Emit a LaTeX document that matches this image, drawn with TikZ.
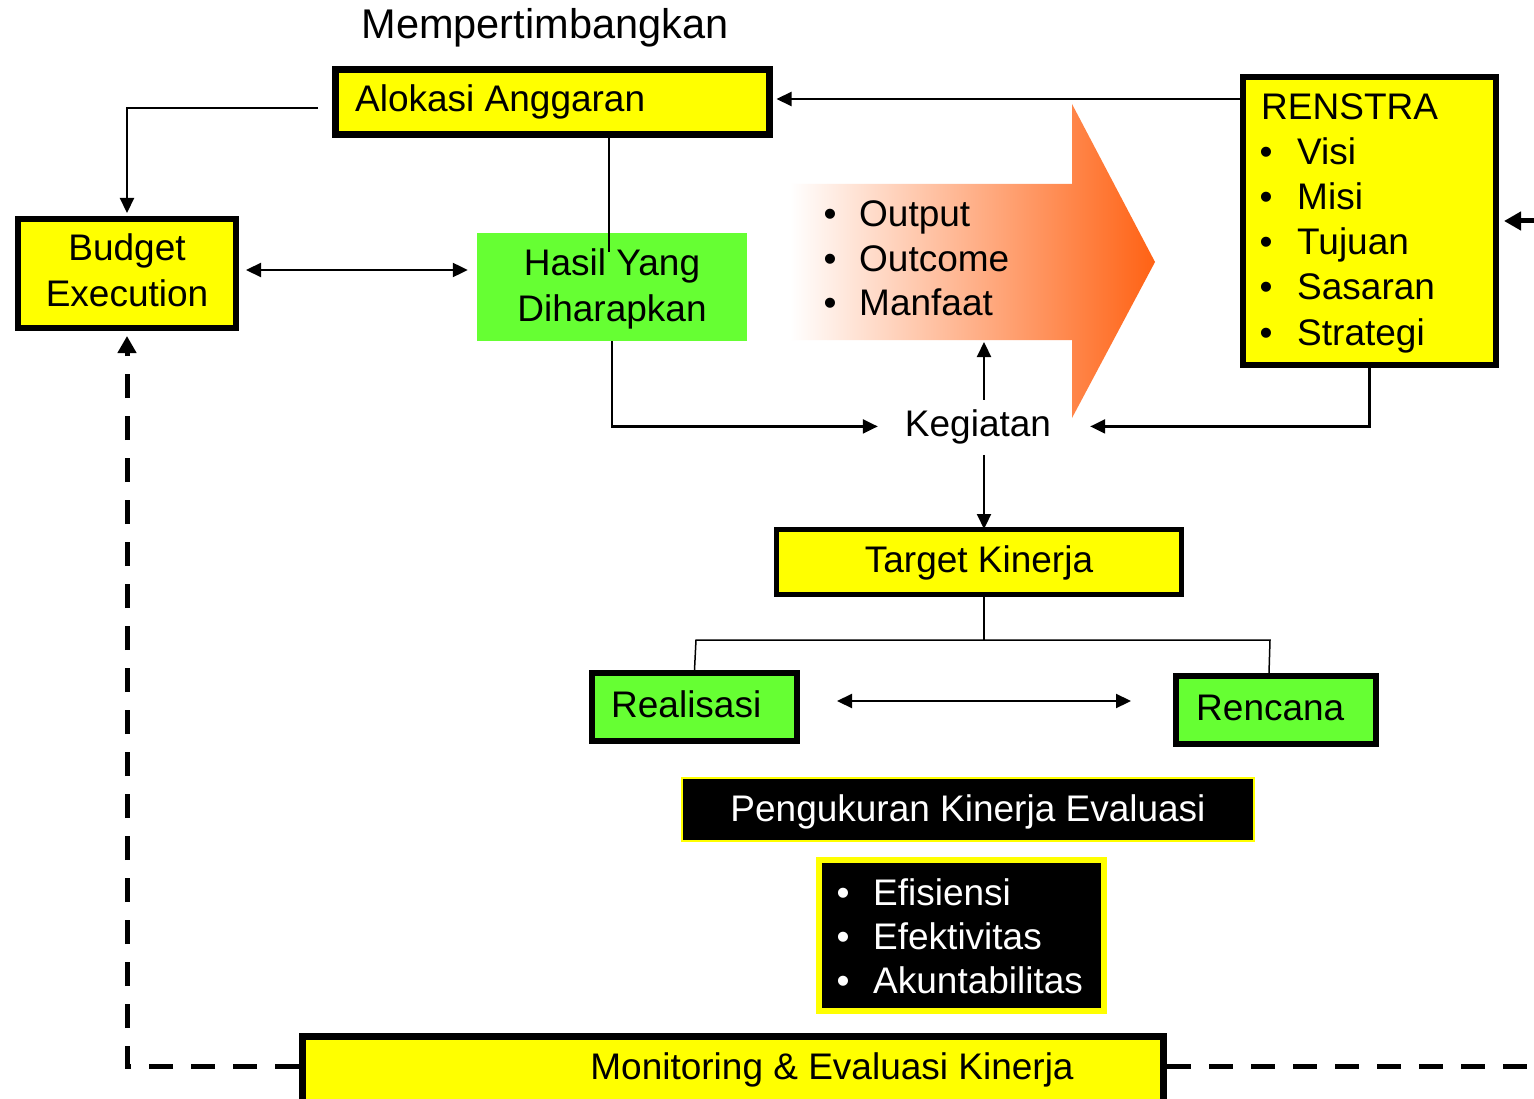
\documentclass[tikz,border=0pt]{standalone}
\usepackage{fontspec}
\setmainfont{Liberation Sans}
\usetikzlibrary{arrows.meta}
\definecolor{yel}{RGB}{255,255,0}
\definecolor{grn}{RGB}{102,255,51}
\definecolor{orng}{RGB}{255,98,20}
\begin{document}
\begin{tikzpicture}[x=1pt,y=-1pt,
  every node/.style={font=\fontsize{37}{45}\selectfont, inner sep=0pt},
  ybox/.style={draw=black, fill=yel, line width=6pt},
  gbox/.style={draw=black, fill=grn, line width=6pt},
  kbox/.style={draw=yel, fill=black},
  txt/.style={anchor=base, inner sep=0pt},
  ltxt/.style={anchor=base west, inner sep=0pt},
  conn/.style={line width=2.2pt},
  arr/.style={conn, -{Triangle[length=15pt,width=14pt]}},
  darr/.style={conn, {Triangle[length=15pt,width=14pt]}-{Triangle[length=15pt,width=14pt]}},
  dsh/.style={line width=5pt, dash pattern=on 24pt off 18pt, -{Triangle[length=17pt,width=18pt]}},
]
\useasboundingbox (0,0) rectangle (1534,1099);
\fill[white] (0,0) rectangle (1534,1099);

% big gradient arrow
\shade[left color=white, right color=orng]
  (790,184) -- (1072,184) -- (1072,104) -- (1155,262) -- (1072,418) -- (1072,340) -- (790,340) -- cycle;

% boxes
\node[ybox, line width=7pt, minimum width=434pt, minimum height=65pt] (alok) at (552.5,102) {};
\node[ybox, minimum width=218pt, minimum height=109pt] (budget) at (127,273.5) {};
\node[fill=grn, minimum width=270pt, minimum height=108pt] (hasil) at (612,287) {};
\node[ybox, minimum width=253pt, minimum height=288pt] (renstra) at (1369.5,221) {};
\node[ybox, line width=5pt, minimum width=405pt, minimum height=65pt] (target) at (979,562) {};
\node[gbox, minimum width=205pt, minimum height=68pt] (realisasi) at (694.5,707) {};
\node[gbox, minimum width=200pt, minimum height=68pt] (rencana) at (1276,710) {};
\node[kbox, line width=2pt, minimum width=572pt, minimum height=63pt] (peng) at (968,809.5) {};
\node[kbox, line width=6pt, minimum width=285pt, minimum height=151pt] (eff) at (961.5,935.5) {};
\node[ybox, line width=7pt, minimum width=861pt, minimum height=73.5pt] (monitor) at (733,1073.25) {};

% text
\node[txt] (tmemp) at (545,39) {\fontsize{41.5}{48}\selectfont Mempertimbangkan};
\node[ltxt] (talok) at (355,112) {Alokasi Anggaran};
\node[txt] (tb1) at (127,261) {Budget};
\node[txt] (tb2) at (127,306) {Execution};
\node[txt] (th1) at (612,276) {Hasil Yang};
\node[txt] (th2) at (612,321) {Diharapkan};
\foreach \t/\y [count=\i] in {Output/227, Outcome/272, Manfaat/316} {
  \node[txt] (ob\i) at (830,\y) {\textbullet};
  \node[ltxt] (ot\i) at (859,\y) {\t};
}
\node[txt] (keg) at (978,436) {Kegiatan};
\node[ltxt] (tren) at (1261,120) {RENSTRA};
\foreach \t/\y [count=\i] in {Visi/165, Misi/210, Tujuan/255, Sasaran/300, Strategi/345} {
  \node[txt] (rb\i) at (1266,\y) {\textbullet};
  \node[ltxt] (rt\i) at (1297,\y) {\t};
}
\node[txt] (ttar) at (979,572) {Target Kinerja};
\node[ltxt] (treal) at (611,717) {Realisasi};
\node[ltxt] (trenc) at (1196,720) {Rencana};
\node[txt, text=white] (tpeng) at (968,821) {Pengukuran Kinerja Evaluasi};
\foreach \t/\y [count=\i] in {Efisiensi/905, Efektivitas/949, Akuntabilitas/993} {
  \node[txt, text=white] (eb\i) at (843,\y) {\textbullet};
  \node[ltxt, text=white] (et\i) at (873,\y) {\t};
}
\node[txt] (tmon) at (832,1079) {Monitoring \& Evaluasi Kinerja};

% connectors
\coordinate (a1) at (318,108);
\draw[arr, shorten >=3pt] (a1) -| (budget.north);
\coordinate (h1) at (609,252);
\draw[line width=1.5pt] (h1 |- alok.south) -- (h1);
\draw[darr, shorten >=9pt] ([yshift=3.5pt, xshift=7pt]budget.east) -- ([yshift=3.5pt]budget.east -| hasil.west);
\draw[arr] (hasil.south) |- ([xshift=-27pt]keg.west);
\coordinate (bodyb) at (984,342);
\draw[arr] ([yshift=9pt]keg.north -| bodyb) -- (bodyb);
\draw[arr, shorten >=-2pt] ([yshift=-11pt]keg.south -| bodyb) -- (target.north -| bodyb);
\coordinate (ry) at (0,99);
\draw[arr, shorten >=3.5pt] (renstra.west |- ry) -- (alok.east |- ry);
\draw[arr] (renstra.south) |- ([xshift=39pt]keg.east);
\coordinate (tj) at (984,640);
\draw[line width=1.5pt] (target.south -| tj) -- (tj);
\draw[line width=1.5pt] (realisasi.north) -- (696,640) -- (1270,640) -- ([xshift=-7pt]rencana.north);
\coordinate (rr) at (0,701);
\draw[darr, shorten <=37pt, shorten >=42pt] (realisasi.east |- rr) -- (rencana.west |- rr);
\coordinate (dy) at (0,1066);
\draw[dsh, shorten >=5pt] (monitor.west |- dy) -| (budget.south);
\draw[dsh, shorten >=5pt] (monitor.east |- dy) -- (1560,1066) -- (1560,221) -- (renstra.east);
\end{tikzpicture}
\end{document}
